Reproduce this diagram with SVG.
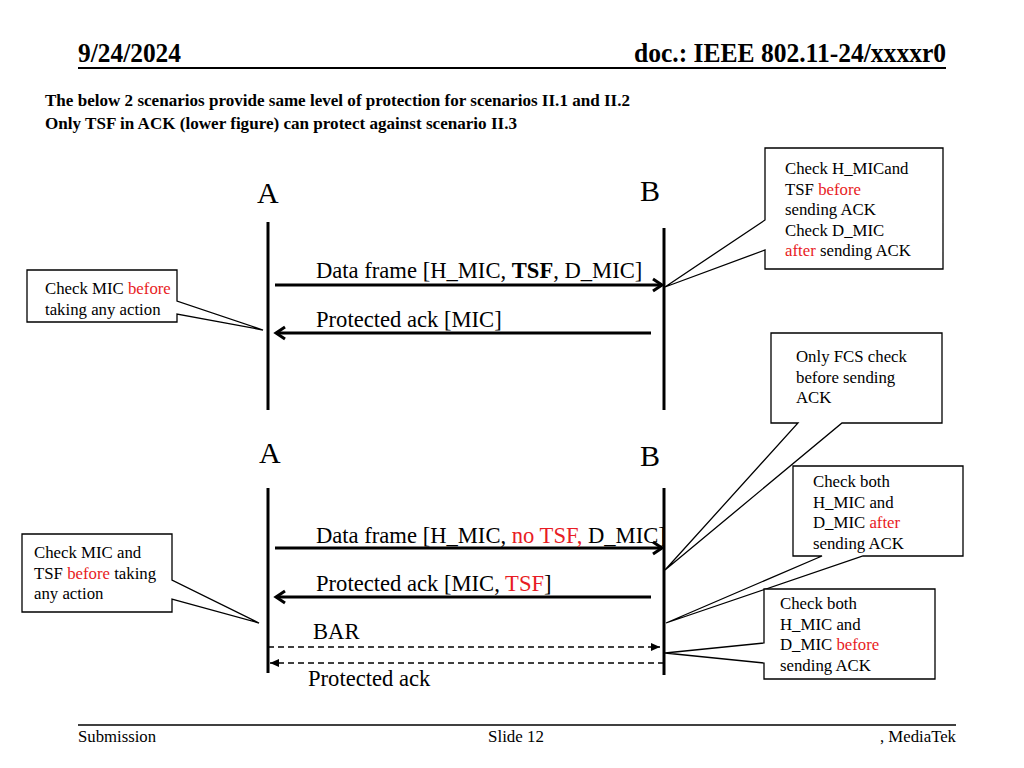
<svg xmlns="http://www.w3.org/2000/svg" width="1024" height="768" viewBox="0 0 1024 768">
<style>
text{font-family:"Liberation Serif","Times New Roman",serif;fill:#000}
.hdr{font-size:28px;font-weight:bold}
.sub{font-size:17px;font-weight:bold}
.ftr{font-size:17px}
.lbl{font-size:30px}
.msg{font-size:22.6px}
.note{font-size:16.8px}
.red{fill:#e81c24}
.life{stroke:#000;stroke-width:3;fill:none}
.arr{stroke:#000;stroke-width:3;fill:none}
.dash{stroke:#000;stroke-width:1.5;stroke-dasharray:6 4;fill:none}
.call{fill:#fff;stroke:#000;stroke-width:1.3}
</style>
<defs>
<marker id="chev" markerUnits="userSpaceOnUse" markerWidth="16" markerHeight="16" viewBox="0 0 16 16" refX="13" refY="8" orient="auto">
<path d="M4,2 L13,8 L4,14" fill="none" stroke="#000" stroke-width="3"/>
</marker>
<marker id="tri" markerUnits="userSpaceOnUse" markerWidth="10" markerHeight="10" viewBox="0 0 10 10" refX="9" refY="5" orient="auto">
<path d="M0,1 L9,5 L0,9 Z" fill="#000"/>
</marker>
</defs>
<rect width="1024" height="768" fill="#fff"/>

<g id="header">
<text class="hdr" x="78" y="62" textLength="103" lengthAdjust="spacingAndGlyphs">9/24/2024</text>
<text class="hdr" x="634" y="62" textLength="312" lengthAdjust="spacingAndGlyphs">doc.: IEEE 802.11-24/xxxxr0</text>
<line x1="78" y1="68" x2="946" y2="68" stroke="#000" stroke-width="2"/>
<text class="sub" x="45" y="106" textLength="585" lengthAdjust="spacingAndGlyphs">The below 2 scenarios provide same level of protection for scenarios II.1 and II.2</text>
<text class="sub" x="45" y="129" textLength="472" lengthAdjust="spacingAndGlyphs">Only TSF in ACK (lower figure) can protect against scenario II.3</text>
</g>

<g id="footer">
<line x1="78" y1="725" x2="956" y2="725" stroke="#000" stroke-width="1.5"/>
<text class="ftr" x="78" y="742" textLength="78" lengthAdjust="spacingAndGlyphs">Submission</text>
<text class="ftr" x="488" y="742" textLength="56" lengthAdjust="spacingAndGlyphs">Slide 12</text>
<text class="ftr" x="880" y="742" textLength="76" lengthAdjust="spacingAndGlyphs">, MediaTek</text>
</g>

<g id="top-A">
<text class="lbl" x="257" y="203">A</text>
<line class="life" x1="268" y1="222" x2="268" y2="410"/>
</g>
<g id="top-B">
<text class="lbl" x="640" y="201">B</text>
<line class="life" x1="664" y1="228" x2="664" y2="410"/>
</g>
<g id="bot-A">
<text class="lbl" x="259" y="463">A</text>
<line class="life" x1="268" y1="488" x2="268" y2="673"/>
</g>
<g id="bot-B">
<text class="lbl" x="640" y="466">B</text>
<line class="life" x1="664" y1="488" x2="664" y2="675"/>
</g>

<g id="connectors">
<line class="arr" x1="275" y1="285" x2="662" y2="285" marker-end="url(#chev)"/>
<line class="arr" x1="651" y1="333" x2="276" y2="333" marker-end="url(#chev)"/>
<line class="arr" x1="275" y1="548" x2="662" y2="548" marker-end="url(#chev)"/>
<line class="arr" x1="651" y1="597" x2="276" y2="597" marker-end="url(#chev)"/>
<line class="dash" x1="268" y1="647" x2="660" y2="647" marker-end="url(#tri)"/>
<line class="dash" x1="664" y1="663" x2="270" y2="663" marker-end="url(#tri)"/>
</g>

<g id="msg-labels">
<text class="msg" x="316" y="278">Data frame [H_MIC, <tspan font-weight="bold">TSF</tspan>, D_MIC]</text>
<text class="msg" x="316" y="327">Protected ack [MIC]</text>
<text class="msg" x="316" y="543">Data frame [H_MIC, <tspan class="red">no TSF,</tspan> D_MIC]</text>
<text class="msg" x="316" y="591">Protected ack [MIC, <tspan class="red">TSF</tspan>]</text>
<text class="msg" x="313" y="639">BAR</text>
<text class="msg" x="308" y="686">Protected ack</text>
</g>

<g id="note-top-left">
<path class="call" d="M27,270 H177 V301 L263,330 L177,314 V322 H27 Z"/>
<text class="note" x="45" y="294">Check MIC <tspan class="red">before</tspan></text>
<text class="note" x="45" y="315">taking any action</text>
</g>

<g id="note-top-right">
<path class="call" d="M765,148 H943 V269 H765 V250 L665,287 L765,220 Z"/>
<text class="note" x="785" y="174">Check H_MICand</text>
<text class="note" x="785" y="195">TSF <tspan class="red">before</tspan></text>
<text class="note" x="785" y="215">sending ACK</text>
<text class="note" x="785" y="236">Check D_MIC</text>
<text class="note" x="785" y="256"><tspan class="red">after</tspan> sending ACK</text>
</g>

<g id="note-fcs">
<path class="call" d="M771,333 H942 V423 H842 L665,570 L798,423 H771 Z"/>
<text class="note" x="796" y="362">Only FCS check</text>
<text class="note" x="796" y="383">before sending</text>
<text class="note" x="796" y="403">ACK</text>
</g>

<g id="note-after">
<path class="call" d="M793,466 H963 V556 H863 L666,623 L822,556 H793 Z"/>
<text class="note" x="813" y="487">Check both</text>
<text class="note" x="813" y="508">H_MIC and</text>
<text class="note" x="813" y="528">D_MIC <tspan class="red">after</tspan></text>
<text class="note" x="813" y="549">sending ACK</text>
</g>

<g id="note-before">
<path class="call" d="M764,589 H935 V679 H764 V663 L665,653 L764,643 Z"/>
<text class="note" x="780" y="609">Check both</text>
<text class="note" x="780" y="630">H_MIC and</text>
<text class="note" x="780" y="650">D_MIC <tspan class="red">before</tspan></text>
<text class="note" x="780" y="671">sending ACK</text>
</g>

<g id="note-bottom-left">
<path class="call" d="M22,534 H172 V580 L259,623 L172,599 V612 H22 Z"/>
<text class="note" x="34" y="558">Check MIC and</text>
<text class="note" x="34" y="579">TSF <tspan class="red">before</tspan> taking</text>
<text class="note" x="34" y="599">any action</text>
</g>
</svg>
